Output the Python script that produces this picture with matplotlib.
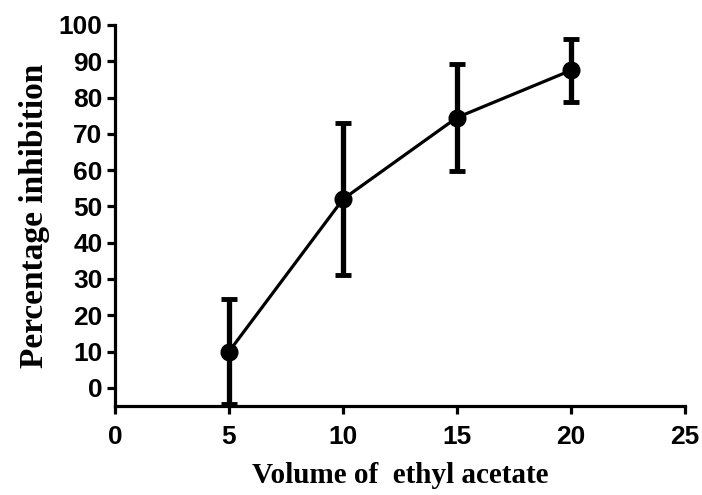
import matplotlib.pyplot as plt

# data
volume = [5, 10, 15, 20]
inhibition = [10.0, 52.0, 74.5, 87.5]
error = [14.5, 21.0, 14.7, 8.7]

xticks = [0, 5, 10, 15, 20, 25]
yticks = [0, 10, 20, 30, 40, 50, 60, 70, 80, 90, 100]

fig = plt.figure(figsize=(7.02, 4.95), dpi=100)
ax = fig.add_axes([0.1638, 0.1798, 0.812, 0.7697])

ax.errorbar(volume, inhibition, yerr=error, color='black', marker='o',
            markersize=12, linewidth=2.3, elinewidth=3.8, capsize=6,
            capthick=3.5, zorder=3)

ax.set_xlim(0, 25)
ax.set_ylim(-5, 100)
ax.set_xticks(xticks)
ax.set_yticks(yticks)

for side in ['top', 'right']:
    ax.spines[side].set_visible(False)
for side in ['left', 'bottom']:
    ax.spines[side].set_linewidth(2.3)

ax.tick_params(direction='out', length=6, width=2.3, pad=3)
ax.tick_params(axis='x', pad=8)
for lab in ax.get_xticklabels() + ax.get_yticklabels():
    lab.set_fontfamily('Liberation Sans')
    lab.set_fontweight('bold')
    lab.set_fontsize(19)

ax.set_xlabel('Volume of  ethyl acetate', fontfamily='Liberation Serif',
              fontweight='bold', fontsize=21, labelpad=9)
ax.set_ylabel('Percentage inhibition', fontfamily='Liberation Serif',
              fontweight='bold', fontsize=24, labelpad=6)

fig.savefig('out.png', dpi=100)
